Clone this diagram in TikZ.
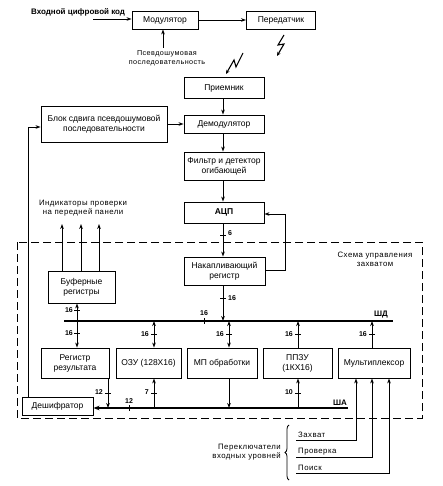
\documentclass[tikz,border=0pt]{standalone}
\usepackage{fontspec}
\setmainfont{Liberation Sans}
\newfontfamily\spaced[LetterSpace=6]{Liberation Sans}
\usetikzlibrary{arrows.meta,decorations.pathreplacing}
\begin{document}
\begin{tikzpicture}[x=1pt,y=-1pt,
  box/.style={draw, line width=0.9pt, align=center, inner sep=1pt, font=\fontsize{8.5}{10}\selectfont},
  lbl/.style={inner sep=0pt, align=center, font=\spaced\fontsize{7.8}{9}\selectfont},
  num/.style={inner sep=0pt, font=\bfseries\fontsize{7}{7}\selectfont},
  arr/.style={line width=0.9pt, -{Stealth[length=5pt,width=3.6pt]}},
  darr/.style={line width=0.9pt, {Stealth[length=5pt,width=3.6pt]}-{Stealth[length=5pt,width=3.6pt]}},
  bolt/.style={line width=1.1pt, -{Stealth[length=4pt,width=3.5pt]}},
  tickl/.style={line width=0.8pt},
  bus/.style={line width=1.6pt},
  frame/.style={line width=0.9pt, dash pattern=on 8pt off 4pt}
]
\useasboundingbox (0,0) rectangle (443,486);

% ---- top section
\node[box, minimum width=66pt, minimum height=18pt] (mod) at (165,20) {Модулятор};
\node[box, minimum width=69pt, minimum height=18pt] (per) at (281,20) {Передатчик};
\node[lbl, anchor=south west, font=\bfseries\fontsize{8}{9}\selectfont] (inp) at (31,16) {Входной цифровой код};
\coordinate (inS) at (93,19);
\draw[arr] (inS) -- (inS -| mod.west);
\draw[arr] (mod.east) -- (per.west);
\node[lbl, font=\spaced\fontsize{7.2}{9.5}\selectfont] (psn) at (167,58) {Псевдошумовая\\последовательность};
\coordinate (psnT) at (163,48);
\draw[arr] (psnT) -- (psnT |- mod.south);

% lightning bolts
\draw[bolt] (284,35) -- (278,45) -- (284,44) -- (277,56);
\draw[bolt] (243,53) -- (236,67) -- (234,60) -- (226,74);

% ---- receiver chain
\node[box, minimum width=80pt, minimum height=21pt] (prm) at (224,88) {Приемник};
\node[box, minimum width=80pt, minimum height=18pt] (dem) at (224,124) {Демодулятор};
\node[box, minimum width=126pt, minimum height=36pt] (blk) at (104,124) {Блок сдвига псевдошумовой\\последовательности};
\node[box, minimum width=80pt, minimum height=28pt] (flt) at (224,166) {Фильтр и детектор\\огибающей};
\node[box, minimum width=80pt, minimum height=21pt, font=\bfseries\fontsize{8.5}{10}\selectfont] (adc) at (224,212.5) {АЦП};
\node[box, minimum width=81pt, minimum height=28pt] (nak) at (224.5,271) {Накапливающий\\регистр};

\draw[arr] (prm.south -| 223,0) -- (dem.north -| 223,0);
\draw[arr] (blk.east |- dem.west) -- (dem.west);
\draw[arr] (dem.south -| 223,0) -- (flt.north -| 223,0);
\draw[arr] (flt.south -| 223,0) -- (adc.north -| 223,0);
\draw[arr] (adc.south -| 223,0) -- (nak.north -| 223,0);
\draw[tickl] (220,235) -- (226,235);
\node[num, anchor=west] at (228,233) {6};
\draw[arr] (nak.east |- 0,270) -- (285,270) -- (285,214) -- (adc.east |- 0,214);

% ---- frame
\draw[frame] (17,242) rectangle (422,418);
\node[lbl] (frm) at (375,259) {Схема управления\\захватом};

% ---- buffers and indicators
\node[box, minimum width=67pt, minimum height=32pt] (buf) at (81.5,287) {Буферные\\регистры};
\node[lbl, font=\spaced\fontsize{7.8}{9}\selectfont] (ind) at (83,208) {Индикаторы проверки\\на передней панели};
\foreach \xx in {62,81,99} \draw[arr] (buf.north -| \xx,0) -- (\xx,224);

% ---- bottom row
\node[box, minimum width=68pt, minimum height=30pt] (reg) at (75,363) {Регистр\\результата};
\node[box, minimum width=65pt, minimum height=30pt] (ozu) at (148.5,363) {ОЗУ (128Х16)};
\node[box, minimum width=70pt, minimum height=30pt] (mp) at (222,363) {МП обработки};
\node[box, minimum width=69pt, minimum height=30pt] (ppzu) at (297.5,363) {ППЗУ\\(1КХ16)};
\node[box, minimum width=72pt, minimum height=30pt] (mux) at (374,363) {Мультиплексор};
\node[box, minimum width=71pt, minimum height=18pt] (dec) at (57.5,406) {Дешифратор};

% ---- data bus
\coordinate (dbL) at (64,321);
\coordinate (dbR) at (393,321);
\draw[bus] (dbL) -- (dbR);
\node[lbl, font=\bfseries\fontsize{8}{8}\selectfont, anchor=south] at (381,318) {ШД};
\draw[tickl] (204,318) -- (204,324);
\node[num, anchor=south] at (204,316) {16};
\draw[arr] (nak.south -| 223,0) -- (223,321);
\draw[tickl] (220,298) -- (226,298);
\node[num, anchor=west] at (228,298) {16};

% buffer / result register
\draw[arr] (77,321) -- (buf.south -| 77,0);
\draw[tickl] (74,310) -- (80,310);
\node[num, anchor=east] at (73,310) {16};
\draw[arr] (77,321) -- (reg.north -| 77,0);
\draw[tickl] (74,333) -- (80,333);
\node[num, anchor=east] at (73,333) {16};

% bus to bottom row
\draw[darr] (154,321) -- (ozu.north -| 154,0);
\draw[tickl] (151,334) -- (157,334);
\node[num, anchor=east] at (149,334) {16};
\draw[darr] (229,321) -- (mp.north -| 229,0);
\draw[tickl] (226,334) -- (232,334);
\node[num, anchor=east] at (224,334) {16};
\draw[arr] (ppzu.north -| 298,0) -- (298,321);
\draw[tickl] (295,334) -- (301,334);
\node[num, anchor=east] at (293,334) {16};
\draw[arr] (mux.north -| 372,0) -- (372,321);
\draw[tickl] (369,334) -- (375,334);
\node[num, anchor=east] at (367,334) {16};

% ---- address bus
\coordinate (abR) at (348,408);
\draw[bus, -{Stealth[length=6pt,width=4.5pt]}] (abR) -- (abR -| dec.east);
\node[lbl, font=\bfseries\fontsize{8}{8}\selectfont, anchor=south] at (340,406) {ША};
\draw[tickl] (129,405) -- (129,411);
\node[num, anchor=south] at (129,404) {12};
\draw[arr] (reg.south -| 108,0) -- (108,408);
\draw[tickl] (105,393) -- (111,393);
\node[num, anchor=east] at (103,392) {12};
\draw[arr] (154,408) -- (ozu.south -| 154,0);
\draw[tickl] (151,393) -- (157,393);
\node[num, anchor=east] at (149,392) {7};
\draw[arr] (mp.south -| 229,0) -- (229,408);
\draw[arr] (298,408) -- (ppzu.south -| 298,0);
\draw[tickl] (295,393) -- (301,393);
\node[num, anchor=east] at (293,392) {10};

% ---- feedback from decoder to shift block
\draw[arr] (dec.north -| 28,0) -- (28,127) -- (blk.west |- 0,127);

% ---- input level switches
\draw[arr] (296,440) -- (356,440) -- (mux.south -| 356,0);
\draw[arr] (296,457) -- (372,457) -- (mux.south -| 372,0);
\draw[arr] (296,473) -- (389,473) -- (mux.south -| 389,0);
\node[lbl, anchor=south west] at (298,438) {Захват};
\node[lbl, anchor=south west] at (298,455) {Проверка};
\node[lbl, anchor=south west] at (298,471) {Поиск};
\draw[line width=0.8pt, decorate, decoration={brace, amplitude=4pt, mirror}] (289,425) -- (289,480);
\node[lbl, anchor=east, align=right] (sw) at (281,452) {Переключатели\\входных уровней};
\end{tikzpicture}
\end{document}
